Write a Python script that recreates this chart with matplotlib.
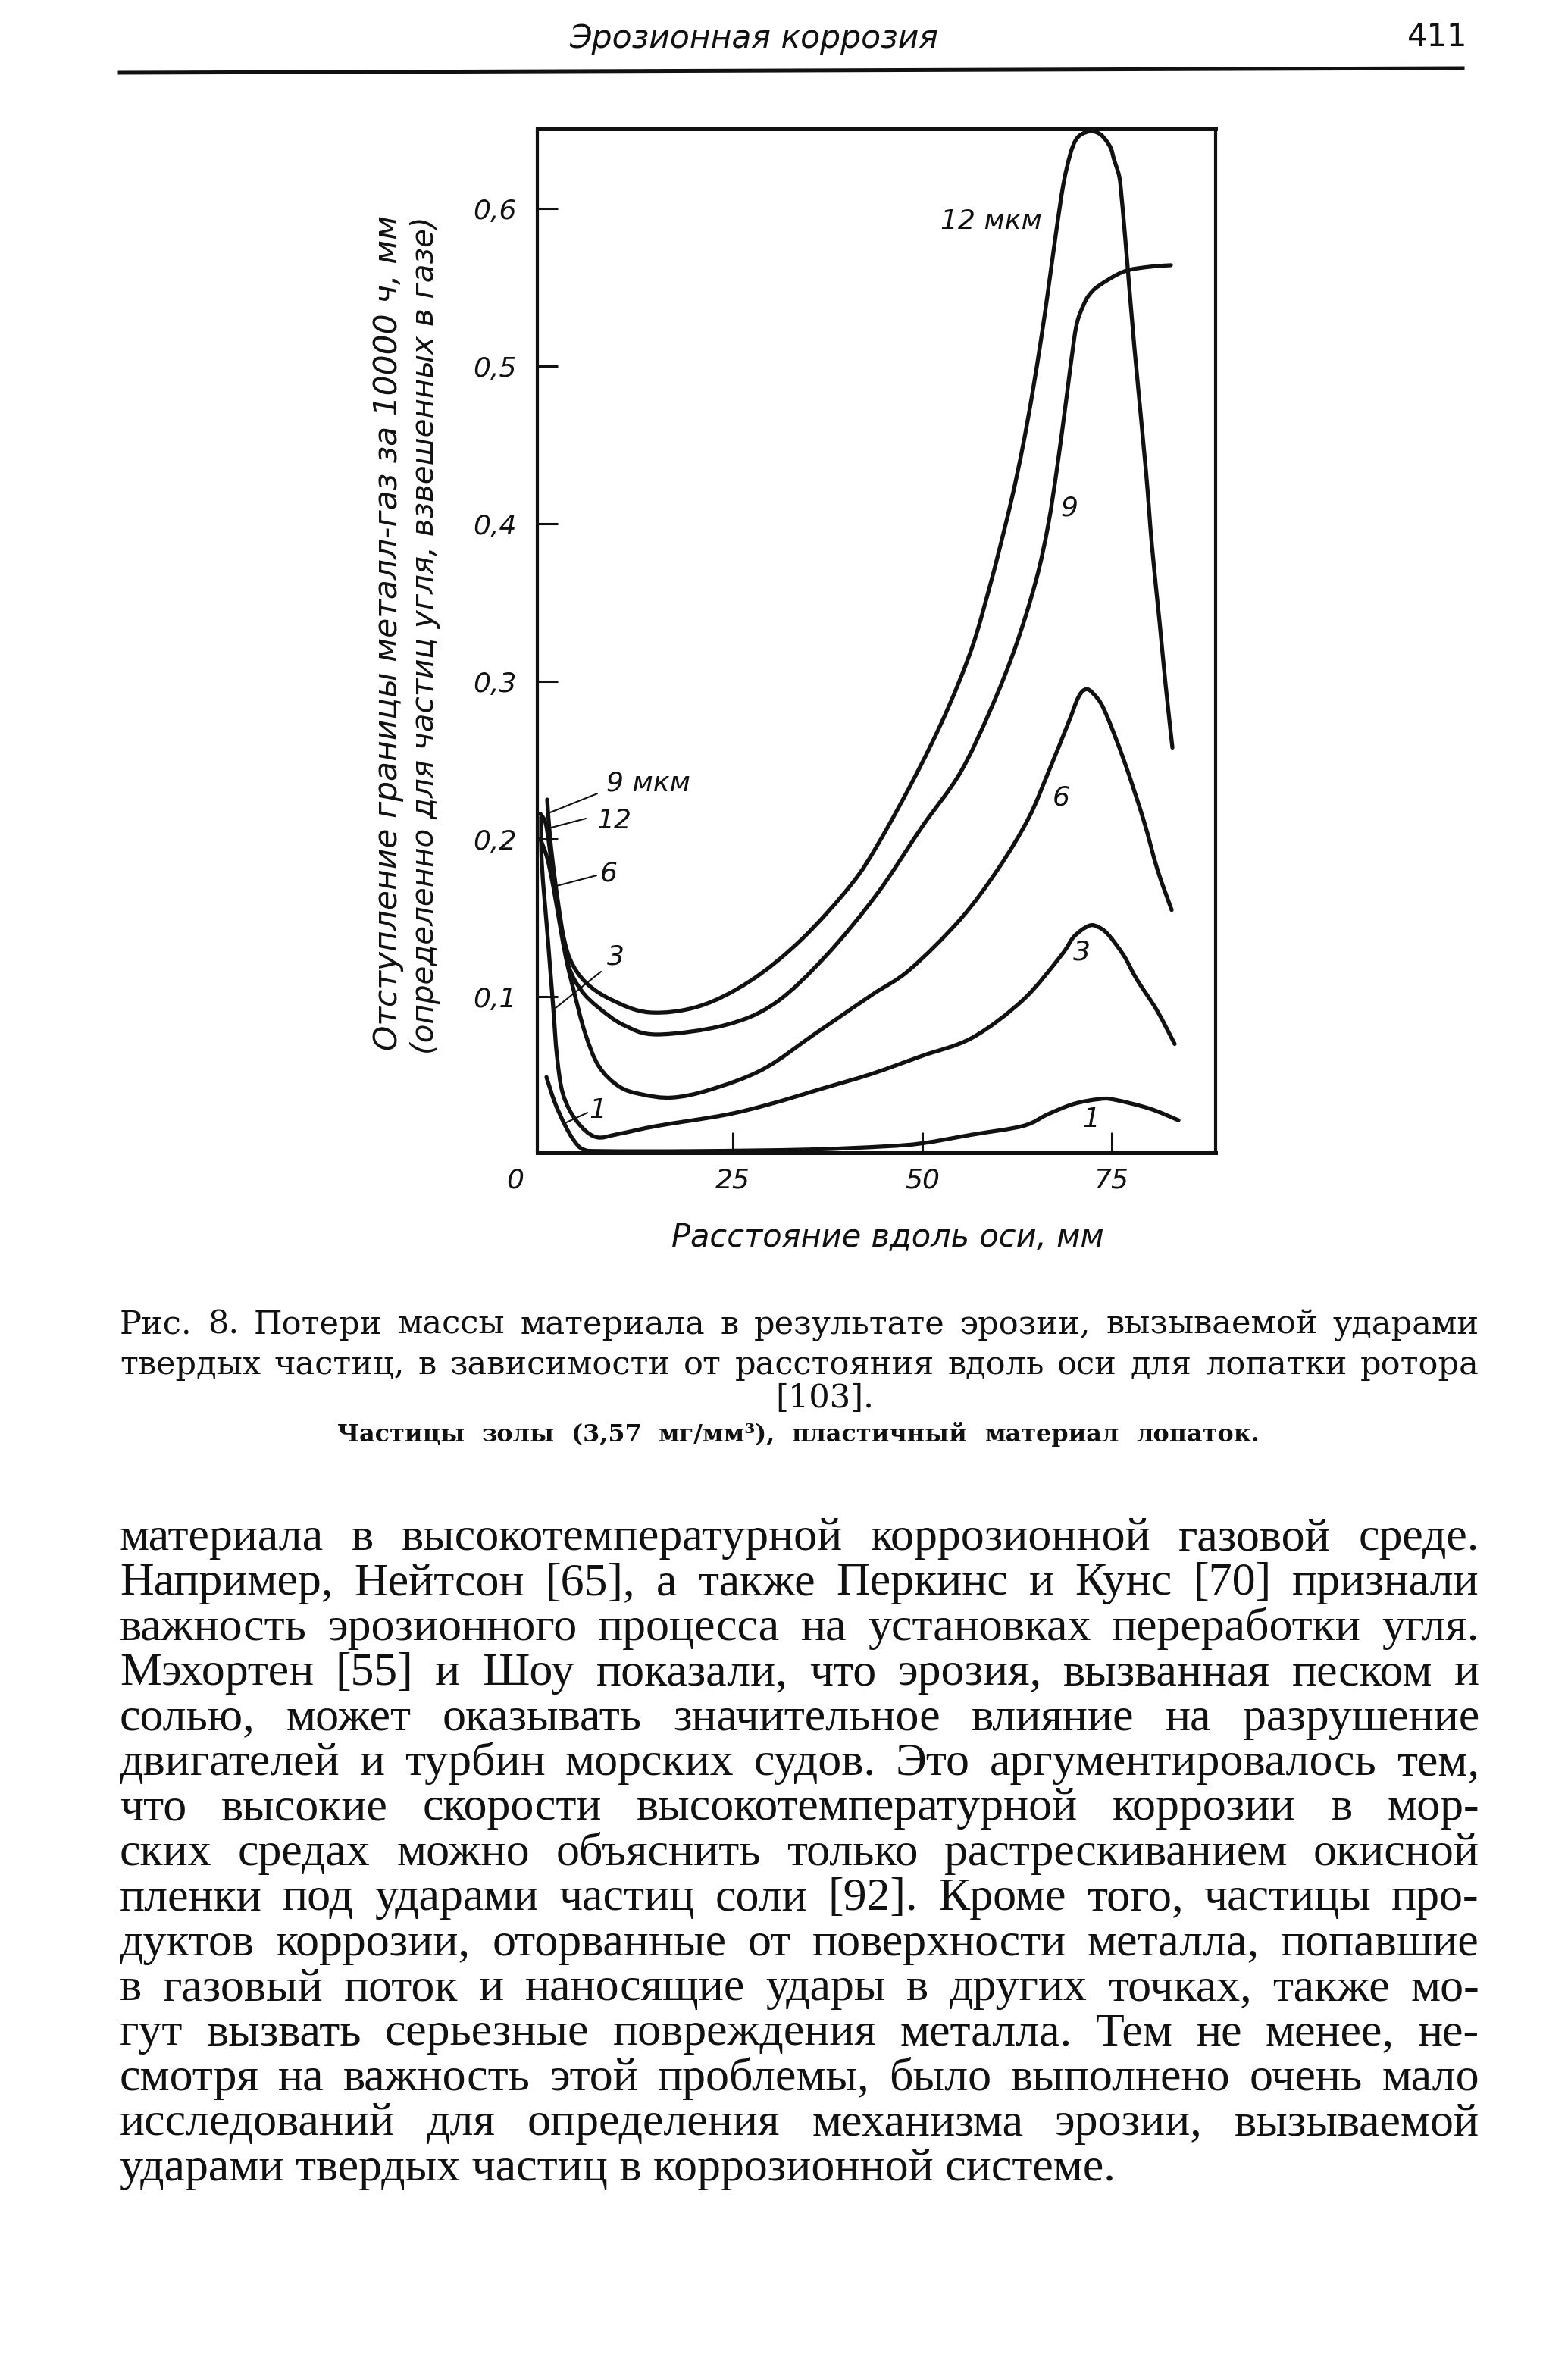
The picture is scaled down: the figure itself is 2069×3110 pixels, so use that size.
#!/usr/bin/env python3
"""
Scanned book page, p. 411 "Эрозионная коррозия":
Fig. 8 - erosion loss vs distance along the rotor blade axis,
with the caption and the body text below it.

Outputs: out.png (2069 x 3110 px)
"""

import matplotlib
matplotlib.use("Agg")
import matplotlib.pyplot as plt
from matplotlib.patches import PathPatch
from matplotlib.path import Path

W, H = 2069, 3110
DPI = 100
INK = "#111111"
BG = "#FFFFFF"

# ── curve data: x = mm along axis, y = mm ───────────────────────────────
x_12 = [-0.4, 0.3, 0.8, 1.4, 2.3, 3.5, 5.6, 9.0, 14.0, 20.6, 27.3, 34.0, 40.6,
        44.3, 49.3, 53.3, 56.6, 59.0, 60.6, 62.0, 63.3, 64.5, 65.7, 66.6, 67.6,
        68.6, 69.5, 70.2, 71.0, 72.3, 73.6, 74.8, 75.3, 76.0, 76.3, 76.6, 77.1,
        78.0, 79.5, 80.3, 81.3, 82.1, 83.0]
y_12 = [0.216, 0.210, 0.195, 0.172, 0.146, 0.124, 0.109, 0.098, 0.090, 0.094,
        0.110, 0.136, 0.171, 0.198, 0.242, 0.282, 0.322, 0.362, 0.392, 0.420,
        0.450, 0.482, 0.518, 0.548, 0.583, 0.615, 0.634, 0.643, 0.647, 0.649,
        0.6466, 0.639, 0.631, 0.620, 0.607, 0.591, 0.5625, 0.511, 0.434, 0.386,
        0.338, 0.298, 0.258]

x_9 = [0.5, 0.9, 1.5, 2.3, 3.3, 5.0, 7.3, 10.6, 15.0, 24.0, 30.6, 37.3, 44.0,
       50.0, 55.0, 59.0, 62.3, 65.0, 66.6, 67.8, 69.0, 70.0, 70.5, 71.3, 72.0,
       73.3, 76.6, 80.0, 82.8]
y_9 = [0.225, 0.200, 0.175, 0.148, 0.120, 0.104, 0.093, 0.082, 0.076, 0.082,
       0.096, 0.126, 0.165, 0.208, 0.242, 0.282, 0.322, 0.364, 0.399, 0.436,
       0.479, 0.516, 0.529, 0.539, 0.545, 0.551, 0.560, 0.563, 0.564]

x_6 = [-0.4, 0.5, 1.3, 2.2, 3.0, 4.0, 5.5, 7.3, 10.0, 13.0, 17.0, 22.0, 29.0,
       36.0, 43.3, 48.3, 55.0, 60.0, 64.0, 66.6, 69.3, 70.6, 71.6, 72.6, 74.0,
       76.6, 79.2, 81.0, 82.9]
y_6 = [0.200, 0.188, 0.170, 0.145, 0.124, 0.104, 0.077, 0.056, 0.043, 0.038,
       0.036, 0.041, 0.054, 0.077, 0.101, 0.117, 0.149, 0.181, 0.213, 0.242,
       0.274, 0.290, 0.295, 0.292, 0.282, 0.250, 0.212, 0.181, 0.155]

x_3 = [-0.3, -0.2, 0.6, 1.3, 1.8, 2.6, 4.4, 6.9, 10.0, 15.0, 24.0, 30.0, 37.0,
       43.3, 50.0, 56.6, 63.3, 68.3, 70.0, 72.0, 73.3, 74.6, 76.6, 78.3, 81.0,
       83.3]
y_3 = [0.214, 0.184, 0.136, 0.093, 0.062, 0.038, 0.021, 0.011, 0.013, 0.018,
       0.025, 0.032, 0.042, 0.051, 0.0625, 0.074, 0.098, 0.126, 0.138, 0.145,
       0.144, 0.139, 0.126, 0.111, 0.091, 0.070]

x_1 = [0.4, 1.5, 2.8, 4.0, 5.3, 8.0, 20.0, 35.0, 45.0, 50.0, 56.6, 63.3, 66.6,
       70.0, 73.3, 75.3, 80.0, 83.8]
y_1 = [0.049, 0.033, 0.019, 0.009, 0.003, 0.002, 0.002, 0.003, 0.005, 0.007,
       0.0125, 0.018, 0.0255, 0.032, 0.035, 0.0347, 0.029, 0.0216]

curves = [(x_12, y_12), (x_9, y_9), (x_6, y_6), (x_3, y_3), (x_1, y_1)]

y_ticks = [0.1, 0.2, 0.3, 0.4, 0.5, 0.6]
y_tick_labels = ["0,1", "0,2", "0,3", "0,4", "0,5", "0,6"]
x_ticks = [25, 50, 75]
x_tick_labels = ["25", "50", "75"]

# curve labels: text, label centre, leader (from, to) or None
curve_labels = [
    ("12 мкм", (59.1, 0.592), None),
    ("9", (69.4, 0.410), None),
    ("6", (68.3, 0.226), None),
    ("3", (71.0, 0.128), None),
    ("1", (72.3, 0.022), None),
    ("9 мкм", (13.8, 0.2356), ((7.1, 0.2288), (0.6, 0.2163))),
    ("12", (9.3, 0.2115), ((5.6, 0.2130), (0.6, 0.2067))),
    ("6", (8.6, 0.178), ((7.0, 0.1769), (1.3, 0.1697))),
    ("3", (9.5, 0.1255), ((7.6, 0.1159), (1.6, 0.0928))),
    ("1", (7.2, 0.028), ((5.8, 0.0264), (2.8, 0.0197))),
]

# ── page texts ──────────────────────────────────────────────────────────
header = "Эрозионная коррозия"
page_no = "411"
y_label_1 = "Отступление границы металл-газ за 10000 ч, мм"
y_label_2 = "(определенно для частиц угля, взвешенных в газе)"
x_label = "Расстояние вдоль оси, мм"

caption_lines = [
    "Рис. 8. Потери массы материала в результате эрозии, вызываемой ударами",
    "твердых частиц, в зависимости от расстояния вдоль оси для лопатки ротора",
]
caption_ref = "[103]."
caption_note = "Частицы золы (3,57 мг/мм³), пластичный материал лопаток."

body_lines = [
    "материала в высокотемпературной коррозионной газовой среде.",
    "Например, Нейтсон [65], а также Перкинс и Кунс [70] признали",
    "важность эрозионного процесса на установках переработки угля.",
    "Мэхортен [55] и Шоу показали, что эрозия, вызванная песком и",
    "солью, может оказывать значительное влияние на разрушение",
    "двигателей и турбин морских судов. Это аргументировалось тем,",
    "что высокие скорости высокотемпературной коррозии в мор-",
    "ских средах можно объяснить только растрескиванием окисной",
    "пленки под ударами частиц соли [92]. Кроме того, частицы про-",
    "дуктов коррозии, оторванные от поверхности металла, попавшие",
    "в газовый поток и наносящие удары в других точках, также мо-",
    "гут вызвать серьезные повреждения металла. Тем не менее, не-",
    "смотря на важность этой проблемы, было выполнено очень мало",
    "исследований для определения механизма эрозии, вызываемой",
    "ударами твердых частиц в коррозионной системе.",
]

SANS = ["DejaVu Sans"]
BODY_SERIF = ["Liberation Serif", "DejaVu Serif"]
CAP_SERIF = ["DejaVu Serif"]


def fx(px):
    return px / W


def fy(py):
    return 1 - py / H


def smooth_path(xs, ys):
    """Bezier path through the read points (Catmull-Rom tangents)."""
    pts = list(zip(xs, ys))
    verts = [pts[0]]
    codes = [Path.MOVETO]
    n = len(pts)
    for i in range(n - 1):
        p0 = pts[max(i - 1, 0)]
        p1 = pts[i]
        p2 = pts[i + 1]
        p3 = pts[min(i + 2, n - 1)]
        c1 = (p1[0] + (p2[0] - p0[0]) / 6, p1[1] + (p2[1] - p0[1]) / 6)
        c2 = (p2[0] - (p3[0] - p1[0]) / 6, p2[1] - (p3[1] - p1[1]) / 6)
        verts += [c1, c2, p2]
        codes += [Path.CURVE4] * 3
    return Path(verts, codes)


def fit_text(fig, t, target, vertical=False):
    """Rescale a text so its rendered length matches `target` px."""
    r = fig.canvas.get_renderer()
    bb = t.get_window_extent(r)
    size = bb.height if vertical else bb.width
    t.set_fontsize(t.get_fontsize() * target / size)


def fit_size(fig, lines, target, base=30, **kw):
    """Font size at which the widest line (normal spacing) fills target px."""
    r = fig.canvas.get_renderer()
    widest = 0
    for line in lines:
        t = fig.text(0, 0, line, fontsize=base, **kw)
        widest = max(widest, t.get_window_extent(r).width)
        t.remove()
    return base * target / widest


def justify(fig, line, x0, x1, base_py, **kw):
    """Place words of one line so it spans x0..x1 px (book justification)."""
    r = fig.canvas.get_renderer()
    words = line.split()
    ts = [fig.text(fx(x0), fy(base_py), w, ha="left", va="baseline", **kw)
          for w in words]
    widths = [t.get_window_extent(r).width for t in ts]
    gap = (x1 - x0 - sum(widths)) / max(len(words) - 1, 1)
    x = x0
    for t, w in zip(ts, widths):
        t.set_x(fx(x))
        x += w + gap


def main():
    fig = plt.figure(figsize=(W / DPI, H / DPI), dpi=DPI, facecolor=BG)

    # ── header ──
    t = fig.text(fx(995), fy(63), header, ha="center", va="baseline",
                 family=SANS, style="italic", fontsize=30, color=INK)
    fit_text(fig, t, 487)
    fig.text(fx(1897), fy(61), page_no, ha="center", va="baseline",
             family=["Liberation Sans Narrow", "DejaVu Sans"], fontsize=30,
             color=INK)
    fig.add_artist(plt.Line2D([fx(158), fx(1930)], [fy(96), fy(90)],
                              color=INK, linewidth=3.6,
                              transform=fig.transFigure))

    # ── plot frame ──
    ax = fig.add_axes([fx(709), fy(1521), fx(1604) - fx(709),
                       fy(170) - fy(1521)])
    ax.set_facecolor(BG)
    ax.set_xlim(-0.8, 88.7)
    ax.set_ylim(0.001, 0.6505)
    for side, sp in ax.spines.items():
        sp.set_color(INK)
        sp.set_linewidth(3.6 if side in ("top", "bottom") else 3.0)

    for xs, ys in curves:
        ax.add_patch(PathPatch(smooth_path(xs, ys), facecolor="none",
                               edgecolor=INK, linewidth=3.8,
                               capstyle="round", joinstyle="round",
                               zorder=3))

    ax.set_yticks(y_ticks)
    ax.set_yticklabels(y_tick_labels, fontstyle="italic", family=SANS)
    ax.set_xticks(x_ticks)
    ax.set_xticklabels(x_tick_labels, fontstyle="italic", family=SANS)
    ax.tick_params(axis="both", direction="in", length=19.5, width=2.2,
                   colors=INK, labelsize=26)
    ax.tick_params(axis="y", pad=20)
    ax.tick_params(axis="x", pad=14)
    fig.text(fx(680), fy(1558), "0", ha="center", va="center",
             family=SANS, style="italic", fontsize=26, color=INK)

    for txt, (lx, ly), leader in curve_labels:
        ax.text(lx, ly, txt, ha="center", va="center", family=SANS,
                style="italic", fontsize=26, color=INK, zorder=4)
        if leader is not None:
            ax.annotate("", xy=leader[1], xytext=leader[0],
                        arrowprops=dict(arrowstyle="-", color=INK, lw=1.5,
                                        shrinkA=0, shrinkB=0))

    # ── axis titles ──
    t = fig.text(fx(512), fy(835), y_label_1, rotation=90, ha="center",
                 va="center", family=SANS, style="italic", fontsize=28,
                 color=INK)
    fit_text(fig, t, 1103, vertical=True)
    t = fig.text(fx(561), fy(838), y_label_2, rotation=90, ha="center",
                 va="center", family=SANS, style="italic", fontsize=28,
                 color=INK)
    fit_text(fig, t, 1103, vertical=True)
    t = fig.text(fx(1171), fy(1632), x_label, ha="center", va="center",
                 family=SANS, style="italic", fontsize=28, color=INK)
    fit_text(fig, t, 571)

    # ── caption ──
    cap_fs = fit_size(fig, caption_lines, 1760, family=CAP_SERIF)
    for i, line in enumerate(caption_lines):
        justify(fig, line, 158, 1952, 1760 + 53 * i, family=CAP_SERIF,
                fontsize=cap_fs, color=INK)
    fig.text(fx(1088), fy(1857), caption_ref, ha="center", va="baseline",
             family=CAP_SERIF, fontsize=cap_fs, color=INK)
    note_fs = fit_size(fig, [caption_note], 1150, family=CAP_SERIF,
                       fontweight="bold")
    justify(fig, caption_note, 445, 1662, 1902, family=CAP_SERIF,
            fontsize=note_fs, fontweight="bold", color=INK)

    # ── body text ──
    body_fs = fit_size(fig, body_lines[:-1], 1720, family=BODY_SERIF)
    for i, line in enumerate(body_lines):
        base = 2045 + 59.4 * i
        if i < len(body_lines) - 1:
            justify(fig, line, 158, 1952, base, family=BODY_SERIF,
                    fontsize=body_fs, color=INK)
        else:
            fig.text(fx(158), fy(base), line, ha="left", va="baseline",
                     family=BODY_SERIF, fontsize=body_fs, color=INK)

    fig.savefig("out.png", dpi=DPI, facecolor=BG)
    plt.close(fig)


if __name__ == "__main__":
    main()
